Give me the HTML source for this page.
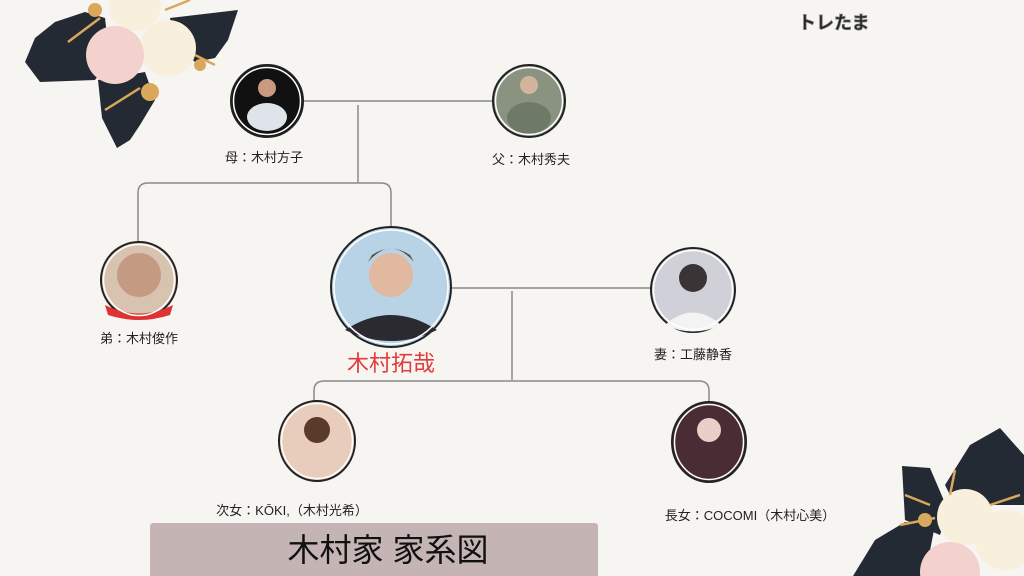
<!DOCTYPE html>
<html><head><meta charset="utf-8"><style>
html,body{margin:0;padding:0;width:1024px;height:576px;overflow:hidden;background:#f7f5f2}
svg{display:block}
text{font-family:"Liberation Sans","Noto Sans CJK JP",sans-serif}
</style></head><body>
<svg width="1024" height="576" viewBox="0 0 1024 576" xmlns="http://www.w3.org/2000/svg">
<rect width="1024" height="576" fill="#f7f5f2"/>
<!-- top-left flower -->
<g>
<path d="M25,62 L35,38 L55,22 L85,12 L105,18 L110,60 L95,80 L40,82 Z" fill="#232a33"/>
<path d="M170,18 L238,10 L228,40 L215,58 L195,62 L175,45 Z" fill="#232a33"/>
<path d="M98,80 L145,72 L155,100 L140,125 L130,140 L117,148 L102,118 Z" fill="#232a33"/>
<circle cx="135" cy="5" r="26" fill="#f8f0dc"/>
<circle cx="168" cy="48" r="28" fill="#f8f0dc"/>
<circle cx="115" cy="55" r="29" fill="#f3d2ce"/>
<path d="M68,42 L100,18 M105,110 L140,88 M165,10 L190,0 M195,55 L215,65" stroke="#d9a85c" stroke-width="2.5"/>
<circle cx="150" cy="92" r="9" fill="#d9a85c"/>
<circle cx="95" cy="10" r="7" fill="#d9a85c"/>
<circle cx="200" cy="65" r="6" fill="#d9a85c"/>
</g>
<!-- bottom-right flower -->
<g>
<path d="M945,485 L970,445 L1000,428 L1015,445 L1024,455 L1024,505 L955,505 Z" fill="#232a33"/>
<path d="M902,466 L930,468 L948,510 L940,535 L905,520 Z" fill="#232a33"/>
<path d="M875,540 L905,522 L935,525 L925,576 L853,576 Z" fill="#232a33"/>
<circle cx="965" cy="517" r="28" fill="#f8f0dc"/>
<circle cx="1005" cy="540" r="30" fill="#f8f0dc"/>
<circle cx="950" cy="572" r="30" fill="#f3d2ce"/>
<path d="M900,525 L935,518 M955,470 L950,495 M990,505 L1020,495 M905,495 L930,505" stroke="#d9a85c" stroke-width="2.5"/>
<circle cx="925" cy="520" r="7" fill="#d9a85c"/>
</g>
<text x="798" y="29" font-size="18" font-weight="bold" fill="#222" stroke="#777" stroke-width="0.8">トレたま</text>
<!-- connectors -->
<g fill="none" stroke="#8a8a8a" stroke-width="1.5">
<path d="M303,101 H493"/>
<path d="M358,105 V183"/>
<path d="M138,243 V193 Q138,183 148,183 H381 Q391,183 391,193 V228"/>
<path d="M451,288 H651"/>
<path d="M512,291 V380"/>
<path d="M314,403 V391 Q314,381 324,381 H699 Q709,381 709,391 V403"/>
</g>
<!-- circles -->
<g stroke="#222" stroke-width="2">
<circle cx="267" cy="101" r="36" fill="#111"/>
<circle cx="529" cy="101" r="36" fill="#8a9380"/>
<circle cx="139" cy="280" r="38" fill="#d8c2b0"/>
<circle cx="391" cy="287" r="60" fill="#b9d3e6"/>
<circle cx="693" cy="290" r="42" fill="#d0d0d8"/>
<ellipse cx="317" cy="441" rx="38" ry="40" fill="#e8cdbd"/>
<ellipse cx="709" cy="442" rx="37" ry="40" fill="#4a2c34"/>
</g>
<!-- photo hints -->
<ellipse cx="267" cy="117" rx="20" ry="14" fill="#dfe3ea"/>
<circle cx="267" cy="88" r="9" fill="#c99a80"/>
<ellipse cx="529" cy="118" rx="22" ry="16" fill="#6f7a66"/>
<circle cx="529" cy="85" r="9" fill="#d2b49c"/>
<circle cx="139" cy="275" r="22" fill="#c49b82"/>
<path d="M105,305 Q139,322 173,305 L170,315 Q139,325 108,315 Z" fill="#d33"/>
<path d="M345,330 Q391,300 437,330 Q391,352 345,330 Z" fill="#2a2a30"/>
<circle cx="391" cy="275" r="22" fill="#e0b9a0"/>
<path d="M368,262 Q391,235 414,262 L410,255 Q391,242 372,255Z" fill="#5a4a3a"/>
<path d="M665,325 Q693,300 721,325 Q693,338 665,325Z" fill="#f3f3f3"/>
<circle cx="693" cy="278" r="14" fill="#3a3436"/>
<circle cx="317" cy="430" r="13" fill="#5a3a2a"/>
<circle cx="709" cy="430" r="12" fill="#e8d0c8"/>
<!-- white inner rings -->
<g fill="none" stroke="#fff" stroke-width="1.5">
<circle cx="267" cy="101" r="33.5"/>
<circle cx="529" cy="101" r="33.5"/>
<circle cx="139" cy="280" r="35.5"/>
<circle cx="391" cy="287" r="57"/>
<circle cx="693" cy="290" r="39.5"/>
<ellipse cx="317" cy="441" rx="35.5" ry="37.5"/>
<ellipse cx="709" cy="442" rx="34.5" ry="37.5"/>
</g>
<!-- labels -->
<g font-size="13" fill="#222" text-anchor="middle">
<text x="264" y="162">母：木村方子</text>
<text x="531" y="164">父：木村秀夫</text>
<text x="139" y="343">弟：木村俊作</text>
<text x="693" y="359">妻：工藤静香</text>
<text x="292" y="515">次女：KŌKI,（木村光希）</text>
<text x="750" y="520">長女：COCOMI（木村心美）</text>
</g>
<text x="391" y="371" font-size="22" fill="#e03c3c" text-anchor="middle">木村拓哉</text>
<rect x="150" y="523" width="448" height="55" rx="3" fill="#c4b4b4"/>
<text x="388" y="561" font-size="32" fill="#111" text-anchor="middle">木村家 家系図</text>
</svg>
</body></html>
